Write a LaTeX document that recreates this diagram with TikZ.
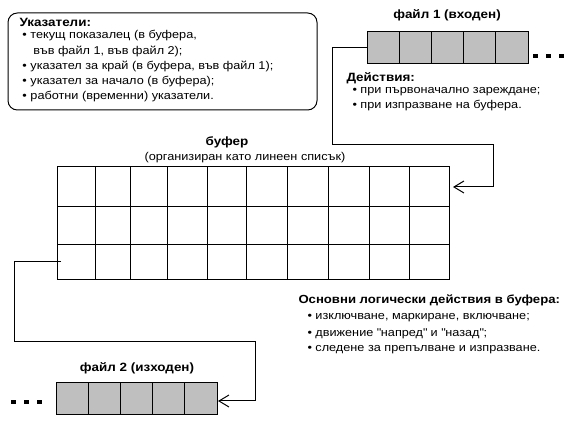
\documentclass[tikz,border=0pt]{standalone}
\usepackage{fontspec}
\setmainfont{Liberation Sans}[FakeStretch=1.12]
\usetikzlibrary{arrows.meta}

\begin{document}
\begin{tikzpicture}[x=0.75pt,y=-0.75pt,line width=0.75pt]
        \tikzset{
            cell/.style={rectangle, draw, fill=black!25, minimum width=24.15pt, minimum height=24pt, inner sep=0pt},
            sq/.style={rectangle, fill=black, minimum size=3.2pt, inner sep=0pt},
            hd/.style={font=\fontsize{9}{10}\selectfont\bfseries, inner sep=0pt},
            tx/.style={font=\fontsize{8.5}{9.5}\selectfont, anchor=west, inner sep=0pt},
            c1/.style={-},
            c2/.style={-{Straight Barb[length=7.5pt,width=9pt,line width=0.75pt]}}
            }
            \useasboundingbox (0,0) rectangle (569,428);

            % pointers
            \node[draw, rounded corners=7pt, minimum width=231.75pt, minimum height=72.75pt] (ptr) at (162.5,61.5) {};
            \node[hd, anchor=west] (ptrh) at (19,22) {Указатели:};
            \node[tx] (p1) at (22,36) {• текущ показалец (в буфера,};
            \node[tx] (p1b) at (33,51) {във файл 1, във файл 2);};
            \node[tx] (p2) at (22,66) {• указател за край (в буфера, във файл 1);};
            \node[tx] (p3) at (22,82) {• указател за начало (в буфера);};
            \node[tx] (p4) at (22,97) {• работни (временни) указатели.};

            % file 1
            \node[hd] (f1h) at (447,15) {файл 1 (входен)};
            \node[cell] (f1c1) at (383.1,47.5) {};
            \node[cell] (f1c2) at (415.3,47.5) {};
            \node[cell] (f1c3) at (447.5,47.5) {};
            \node[cell] (f1c4) at (479.7,47.5) {};
            \node[cell] (f1c5) at (511.9,47.5) {};
            \node[sq] (f1d1) at (535.5,56) {};
            \node[sq] (f1d2) at (548.5,56) {};
            \node[sq] (f1d3) at (561.5,56) {};
            \node[hd, anchor=west] (acth) at (346,78) {Действия:};
            \node[tx] (a1) at (352,92) {• при първоначално зареждане;};
            \node[tx] (a2) at (352,106) {• при изпразване на буфера.};

            % buffer
            \node[hd] (bufh) at (227,142) {буфер};
            \node[tx, anchor=center] (bufs) at (245,158) {(организиран като линеен списък)};
            \node[draw, minimum width=294pt, minimum height=84.75pt, inner sep=0pt] (buf) at (253,223.5) {};
            \foreach \cx in {95,130,167,207,246,287,328,369,409}
                \draw[c1] (\cx,167) -- (\cx,280);
            \draw[c1] (57,207) -- (449,207);
            \draw[c1] (57,245) -- (449,245);
            \coordinate (bin) at (453,187);
            \coordinate (bout) at (61,262);

            \node[hd, anchor=west, font=\fontsize{8.8}{10}\selectfont\bfseries] (oph) at (298,300) {Основни логически действия в буфера:};
            \node[tx] (o1) at (307,318) {• изключване, маркиране, включване;};
            \node[tx] (o2) at (307,334) {• движение \textquotedbl напред\textquotedbl{} и \textquotedbl назад\textquotedbl;};
            \node[tx] (o3) at (307,350) {• следене за препълване и изпразване.};

            % file 2
            \node[hd] (f2h) at (137,368) {файл 2 (изходен)};
            \node[cell] (f2c1) at (73,398.5) {};
            \node[cell] (f2c2) at (105,398.5) {};
            \node[cell] (f2c3) at (137,398.5) {};
            \node[cell] (f2c4) at (169,398.5) {};
            \node[cell] (f2c5) at (201,398.5) {};
            \node[sq] (f2d1) at (13.5,402) {};
            \node[sq] (f2d2) at (26.5,402) {};
            \node[sq] (f2d3) at (39.5,402) {};
            \coordinate (f2in) at (218,401);

            \draw[c2] (f1c1.west) -- ++(-34,0) |- (493,145) |- (bin);
            \draw[c2] (bout) -- (14,262) |- (255,342) |- (f2in);
        \end{tikzpicture}
\end{document}
